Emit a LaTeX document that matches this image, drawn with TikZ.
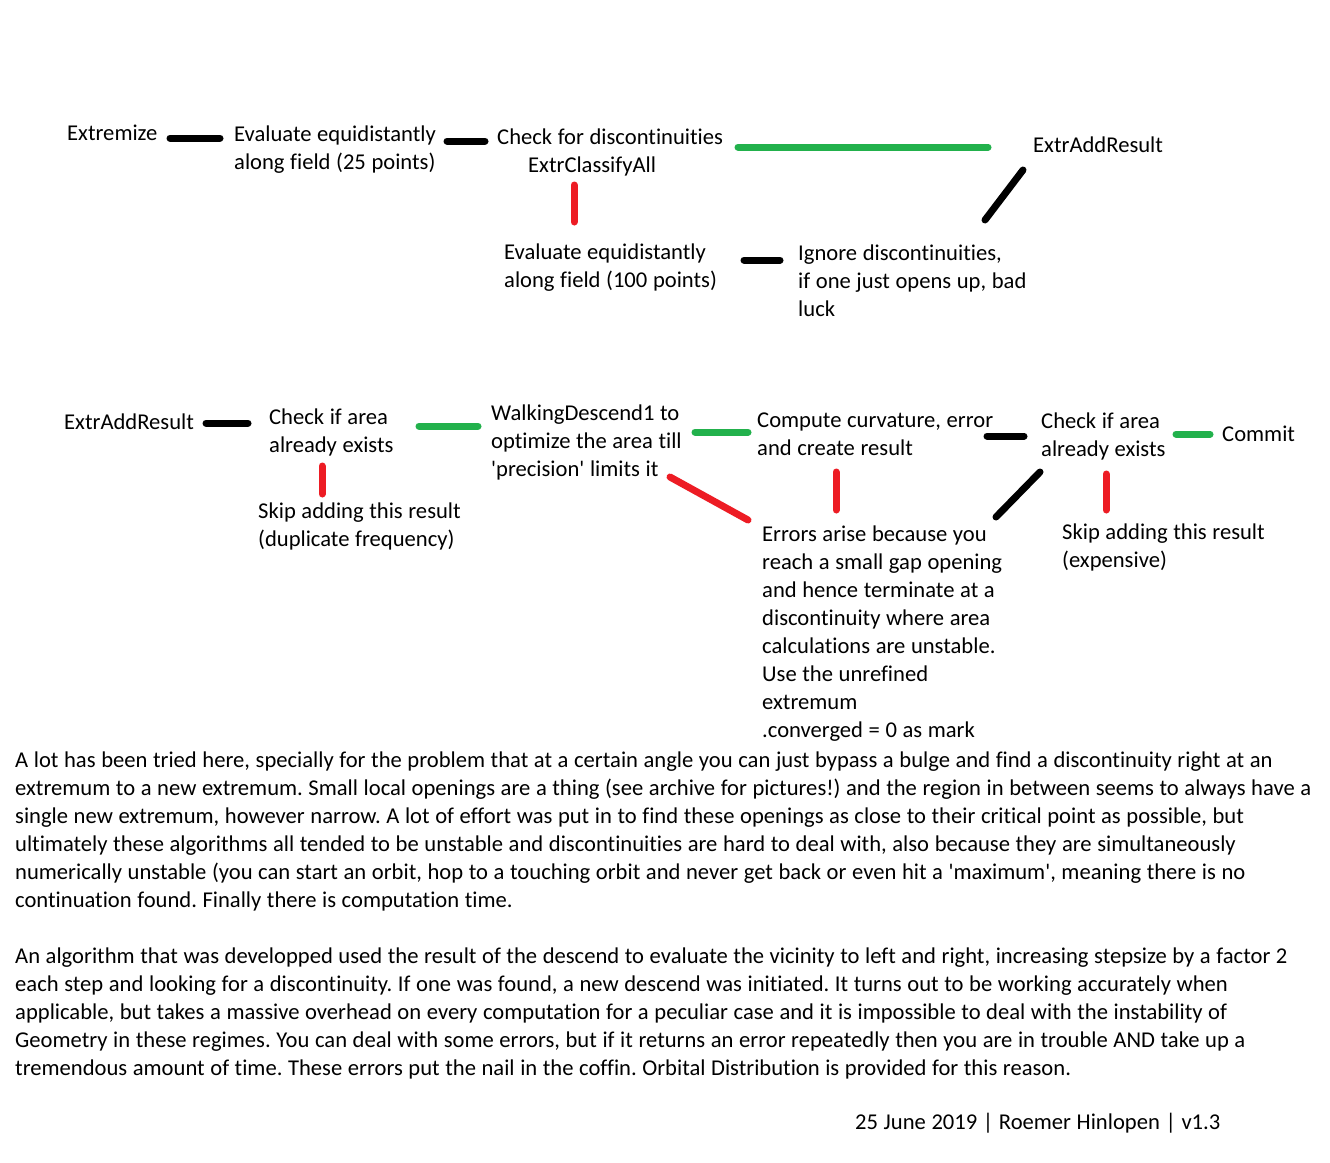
\documentclass[tikz,border=0pt]{standalone}
\usepackage{fontspec}
\setmainfont[Ligatures={NoCommon}]{Carlito}
\definecolor{pgreen}{HTML}{22B14C}
\definecolor{pred}{HTML}{ED1C24}
\frenchspacing
\newcommand\narrowspaces{\spaceskip=5.6pt plus 0.2pt\relax\xspaceskip=5.6pt plus 0.2pt\relax}
\begin{document}
\begin{tikzpicture}[x=1pt,y=-1pt,
  txt/.style={anchor=base west,inner sep=0pt,text width=#1,align=left,
    font=\fontsize{22.6}{28}\selectfont\frenchspacing,
    execute at begin node=\narrowspaces},
  txt/.default=400pt,
  stroke/.style={line width=7pt,line cap=round},
  blk/.style={stroke,black},
  grn/.style={stroke,pgreen},
  rd/.style={stroke,pred}]
\useasboundingbox[fill=white] (0,0) rectangle (1330,1162);
% row 1
\node[txt] (extremize) at (67,140) {Extremize};
\node[txt] (eval25) at (234,141) {Evaluate equidistantly\\along field (25 points)};
\node[txt] (checkdisc) at (497,144) {Check for discontinuities\\\hspace*{31pt}ExtrClassifyAll};
\node[txt] (addres1) at (1033,152) {ExtrAddResult};
\node[txt] (eval100) at (504,259) {Evaluate equidistantly\\along field (100 points)};
\node[txt] (ignore) at (798,260) {Ignore discontinuities,\\if one just opens up, bad\\luck};
% row 2
\node[txt] (addres2) at (64,429) {ExtrAddResult};
\node[txt] (checkarea1) at (269,424) {Check if area\\already exists};
\node[txt] (skipdup) at (258,518) {Skip adding this result\\(duplicate frequency)};
\node[txt] (walking) at (491,420) {WalkingDescend1 to\\optimize the area till\\\textquotesingle precision\textquotesingle{} limits it};
\node[txt] (compute) at (757,427) {Compute curvature, error\\and create result};
\node[txt] (checkarea2) at (1041,428) {Check if area\\already exists};
\node[txt] (commit) at (1222,441) {Commit};
\node[txt] (skipexp) at (1062,539) {Skip adding this result\\(expensive)};
\node[txt] (errors) at (762,541) {Errors arise because you\\reach a small gap opening\\and hence terminate at a\\discontinuity where area\\calculations are unstable.\\Use the unrefined\\extremum\\.converged = 0 as mark};
% text
\node[txt=1320pt] (para) at (15,767) {A lot has been tried here, specially for the problem that at a certain angle you can just bypass a bulge and find a discontinuity right at an\\extremum to a new extremum. Small local openings are a thing (see archive for pictures!) and the region in between seems to always have a\\single new extremum, however narrow. A lot of effort was put in to find these openings as close to their critical point as possible, but\\ultimately these algorithms all tended to be unstable and discontinuities are hard to deal with, also because they are simultaneously\\numerically unstable (you can start an orbit, hop to a touching orbit and never get back or even hit a \textquotesingle maximum\textquotesingle, meaning there is no\\continuation found. Finally there is computation time.\\[28pt]An algorithm that was developped used the result of the descend to evaluate the vicinity to left and right, increasing stepsize by a factor 2\\each step and looking for a discontinuity. If one was found, a new descend was initiated. It turns out to be working accurately when\\applicable, but takes a massive overhead on every computation for a peculiar case and it is impossible to deal with the instability of\\Geometry in these regimes. You can deal with some errors, but if it returns an error repeatedly then you are in trouble AND take up a\\tremendous amount of time. These errors put the nail in the coffin. Orbital Distribution is provided for this reason.};
\node[txt] (footer) at (855,1129) {25 June 2019 | Roemer Hinlopen | v1.3};
% connector end points
\coordinate (a1) at (170,138); \coordinate (a2) at (220,138);
\coordinate (b1) at (447,141); \coordinate (b2) at (485,141);
\coordinate (c1) at (738,147); \coordinate (c2) at (988,147);
\coordinate (d1) at (1023,170); \coordinate (d2) at (985,220);
\coordinate (e1) at (574,185); \coordinate (e2) at (574,222);
\coordinate (f1) at (744,260); \coordinate (f2) at (780,260);
\coordinate (g1) at (206,423); \coordinate (g2) at (248,423);
\coordinate (h1) at (419,426); \coordinate (h2) at (478,426);
\coordinate (i1) at (322,466); \coordinate (i2) at (322,494);
\coordinate (j1) at (670,477); \coordinate (j2) at (748,520);
\coordinate (k1) at (695,432); \coordinate (k2) at (748,432);
\coordinate (l1) at (836,472); \coordinate (l2) at (836,510);
\coordinate (m1) at (987,436); \coordinate (m2) at (1024,436);
\coordinate (n1) at (1176,434); \coordinate (n2) at (1210,434);
\coordinate (o1) at (1040,472); \coordinate (o2) at (996,517);
\coordinate (p1) at (1106,474); \coordinate (p2) at (1106,510);
\draw[blk] (a1) -- (a2);
\draw[blk] (b1) -- (b2);
\draw[grn] (c1) -- (c2);
\draw[blk] (d1) -- (d2);
\draw[rd] (e1) -- (e2);
\draw[blk] (f1) -- (f2);
\draw[blk] (g1) -- (g2);
\draw[grn] (h1) -- (h2);
\draw[rd] (i1) -- (i2);
\draw[rd] (j1) -- (j2);
\draw[grn] (k1) -- (k2);
\draw[rd] (l1) -- (l2);
\draw[blk] (m1) -- (m2);
\draw[grn] (n1) -- (n2);
\draw[blk] (o1) -- (o2);
\draw[rd] (p1) -- (p2);
\end{tikzpicture}
\end{document}
